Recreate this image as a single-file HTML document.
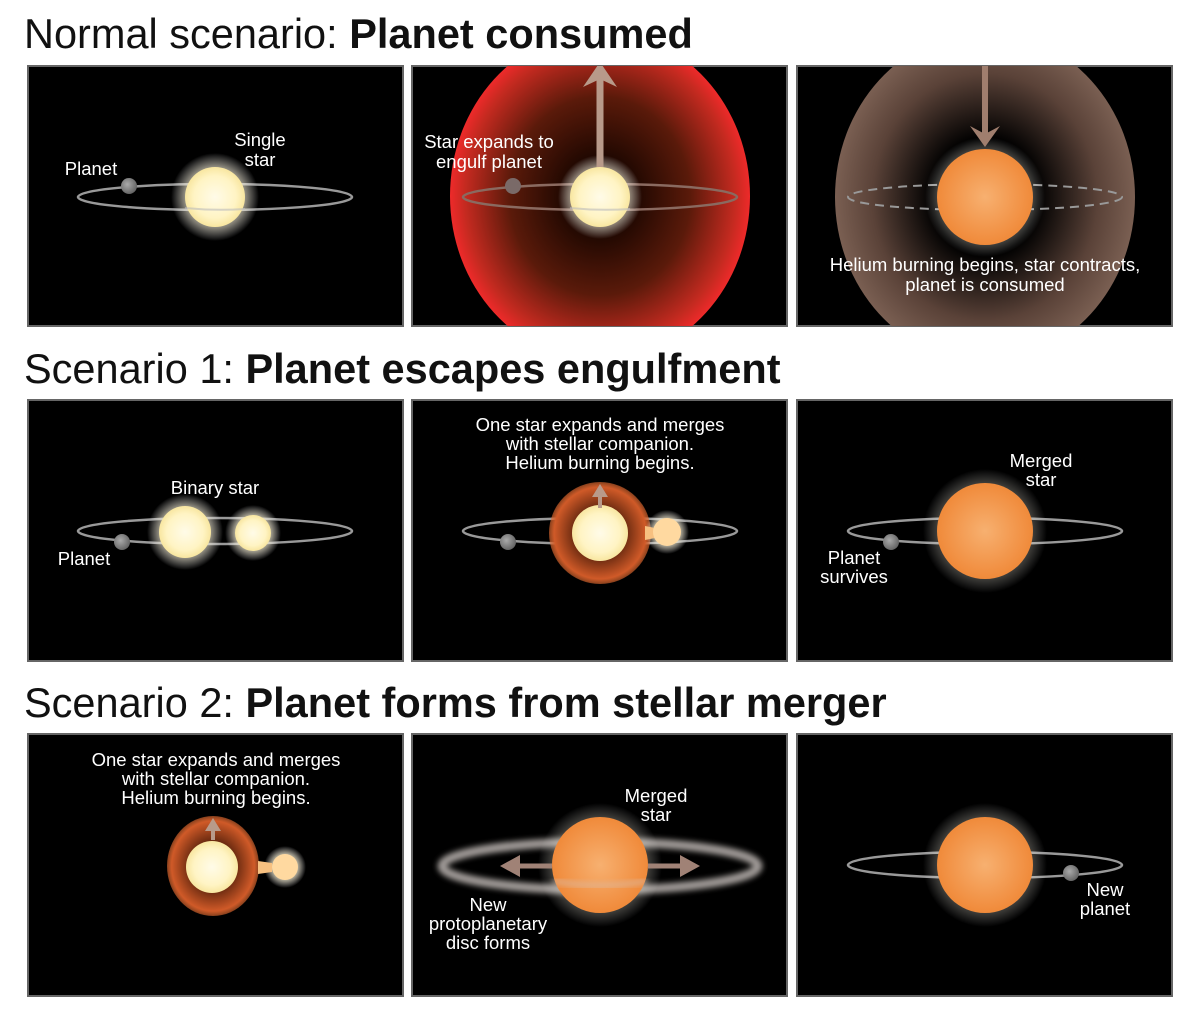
<!DOCTYPE html>
<html><head><style>
html,body{margin:0;padding:0;background:#fff;}
svg{display:block;}
text{font-family:"Liberation Sans",Arial,sans-serif;}
.l{fill:#fff;font-size:18.5px;text-anchor:middle;}
.t{font-size:41.5px;fill:#111;}
</style></head><body>
<svg width="1200" height="1018" viewBox="0 0 1200 1018" xmlns="http://www.w3.org/2000/svg">
<defs>
<radialGradient id="cream" cx="50%" cy="50%" r="50%">
<stop offset="0" stop-color="#fffbe8"/><stop offset="0.7" stop-color="#fff4c4"/><stop offset="1" stop-color="#f8e6a0"/></radialGradient>
<radialGradient id="glow" cx="50%" cy="50%" r="50%">
<stop offset="0.5" stop-color="#fff4d0" stop-opacity="0.9"/><stop offset="1" stop-color="#fff" stop-opacity="0"/></radialGradient>
<radialGradient id="orange" cx="50%" cy="50%" r="50%">
<stop offset="0" stop-color="#f7b070"/><stop offset="1" stop-color="#f08a3a"/></radialGradient>
<radialGradient id="red" cx="50%" cy="50%" r="50%">
<stop offset="0.2" stop-color="#1a0600"/><stop offset="0.6" stop-color="#5a1a0a"/><stop offset="0.9" stop-color="#c42a20"/><stop offset="1" stop-color="#ee2a2a"/></radialGradient>
<radialGradient id="brown" cx="50%" cy="50%" r="50%">
<stop offset="0.35" stop-color="#000"/><stop offset="0.75" stop-color="#5a4238"/><stop offset="1" stop-color="#7a5f52"/></radialGradient>
<radialGradient id="oglow" cx="50%" cy="50%" r="50%">
<stop offset="0.5" stop-color="#6a2a10"/><stop offset="0.9" stop-color="#d05a28"/><stop offset="1" stop-color="#e06a30" stop-opacity="0.6"/></radialGradient>
<radialGradient id="planet" cx="40%" cy="40%" r="60%">
<stop offset="0" stop-color="#aaa"/><stop offset="1" stop-color="#666"/></radialGradient>
<clipPath id="c12"><rect x="412" y="66" width="375" height="260"/></clipPath>
<clipPath id="c13"><rect x="797" y="66" width="375" height="260"/></clipPath>
<filter id="blur" x="-20%" y="-50%" width="140%" height="200%"><feGaussianBlur stdDeviation="3"/></filter>
</defs>

<text class="t" x="24" y="48">Normal scenario: <tspan font-weight="bold">Planet consumed</tspan></text>
<text class="t" x="24" y="383">Scenario 1: <tspan font-weight="bold">Planet escapes engulfment</tspan></text>
<text class="t" x="24" y="717">Scenario 2: <tspan font-weight="bold">Planet forms from stellar merger</tspan></text>

<g fill="#000" stroke="#666" stroke-width="2">
<rect x="28" y="66" width="375" height="260"/><rect x="412" y="66" width="375" height="260"/><rect x="797" y="66" width="375" height="260"/>
<rect x="28" y="400" width="375" height="261"/><rect x="412" y="400" width="375" height="261"/><rect x="797" y="400" width="375" height="261"/>
<rect x="28" y="734" width="375" height="262"/><rect x="412" y="734" width="375" height="262"/><rect x="797" y="734" width="375" height="262"/>
</g>

<!-- Row 1 panel 1 -->
<ellipse cx="215" cy="197" rx="137" ry="13" fill="none" stroke="#999" stroke-width="2.5"/>
<circle cx="215" cy="197" r="44" fill="url(#glow)"/>
<circle cx="215" cy="197" r="30" fill="url(#cream)"/>
<path d="M185,208 Q215,211 245,209" fill="none" stroke="#bbb" stroke-width="2" opacity="0.6"/>
<circle cx="129" cy="186" r="8" fill="url(#planet)"/>
<text class="l" x="91" y="175">Planet</text>
<text class="l" x="260" y="146">Single</text><text class="l" x="260" y="166">star</text>

<!-- Row 1 panel 2 -->
<g clip-path="url(#c12)">
<ellipse cx="600" cy="196" rx="150" ry="165" fill="url(#red)"/>
<ellipse cx="600" cy="197" rx="137" ry="13" fill="none" stroke="#8a6a60" stroke-width="2.5"/>
<circle cx="600" cy="197" r="42" fill="url(#glow)"/>
<circle cx="600" cy="197" r="30" fill="url(#cream)"/>
<path d="M570,208 Q600,211 630,209" fill="none" stroke="#bbb" stroke-width="2" opacity="0.6"/>
<circle cx="513" cy="186" r="8" fill="#7a6a68"/>
<line x1="600" y1="167" x2="600" y2="78" stroke="#b89a8a" stroke-width="7"/>
<path d="M583,87 L600,62 L617,87 L600,79 z" fill="#b89a8a"/>
</g>
<text class="l" x="489" y="148">Star expands to</text><text class="l" x="489" y="168">engulf planet</text>

<!-- Row 1 panel 3 -->
<g clip-path="url(#c13)">
<ellipse cx="985" cy="197" rx="150" ry="165" fill="url(#brown)"/>
<ellipse cx="985" cy="197" rx="137" ry="13" fill="none" stroke="#999" stroke-width="2" stroke-dasharray="9,6"/>
<circle cx="985" cy="197" r="60" fill="url(#glow)" opacity="0.7"/>
<circle cx="985" cy="197" r="48" fill="url(#orange)"/>
<line x1="985" y1="66" x2="985" y2="135" stroke="#a07e6e" stroke-width="6"/>
<path d="M970,126 L985,147 L1000,126 L985,134 z" fill="#a07e6e"/>
</g>
<text class="l" x="985" y="271">Helium burning begins, star contracts,</text>
<text class="l" x="985" y="291">planet is consumed</text>

<!-- Row 2 panel 1 -->
<ellipse cx="215" cy="531" rx="137" ry="13" fill="none" stroke="#999" stroke-width="2.5"/>
<circle cx="185" cy="532" r="38" fill="url(#glow)"/>
<circle cx="185" cy="532" r="26" fill="url(#cream)"/>
<circle cx="253" cy="533" r="28" fill="url(#glow)"/>
<circle cx="253" cy="533" r="18" fill="url(#cream)"/>
<circle cx="122" cy="542" r="8" fill="url(#planet)"/>
<text class="l" x="215" y="494">Binary star</text>
<text class="l" x="84" y="565">Planet</text>

<!-- Row 2 panel 2 -->
<text class="l" x="600" y="431">One star expands and merges</text>
<text class="l" x="600" y="450">with stellar companion.</text>
<text class="l" x="600" y="469">Helium burning begins.</text>
<ellipse cx="600" cy="531" rx="137" ry="13" fill="none" stroke="#999" stroke-width="2.5"/>
<circle cx="600" cy="533" r="51" fill="url(#oglow)"/>
<circle cx="667" cy="532" r="22" fill="url(#glow)"/>
<path d="M645,526 L655,528 L655,538 L645,540 z" fill="#f7c080"/>
<circle cx="667" cy="532" r="14" fill="#ffd9a0"/>
<circle cx="600" cy="533" r="28" fill="url(#cream)"/>
<line x1="600" y1="508" x2="600" y2="494" stroke="#b89a8a" stroke-width="4"/>
<path d="M592,497 L600,484 L608,497 z" fill="#b89a8a"/>
<circle cx="508" cy="542" r="8" fill="url(#planet)"/>

<!-- Row 2 panel 3 -->
<ellipse cx="985" cy="531" rx="137" ry="13" fill="none" stroke="#999" stroke-width="2.5"/>
<circle cx="985" cy="531" r="62" fill="url(#glow)" opacity="0.6"/>
<circle cx="985" cy="531" r="48" fill="url(#orange)"/>
<circle cx="891" cy="542" r="8" fill="url(#planet)"/>
<text class="l" x="1041" y="467">Merged</text><text class="l" x="1041" y="486">star</text>
<text class="l" x="854" y="564">Planet</text><text class="l" x="854" y="583">survives</text>

<!-- Row 3 panel 1 -->
<text class="l" x="216" y="766">One star expands and merges</text>
<text class="l" x="216" y="785">with stellar companion.</text>
<text class="l" x="216" y="804">Helium burning begins.</text>
<ellipse cx="213" cy="866" rx="46" ry="50" fill="url(#oglow)"/>
<circle cx="285" cy="867" r="21" fill="url(#glow)"/>
<path d="M258,861 L272,863 L272,872 L258,874 z" fill="#f7c080"/>
<circle cx="285" cy="867" r="13" fill="#ffd9a0"/>
<circle cx="212" cy="867" r="26" fill="url(#cream)"/>
<line x1="213" y1="840" x2="213" y2="828" stroke="#b89a8a" stroke-width="4"/>
<path d="M205,831 L213,818 L221,831 z" fill="#b89a8a"/>

<!-- Row 3 panel 2 -->
<ellipse cx="600" cy="866" rx="158" ry="24" fill="none" stroke="#d8d0cc" stroke-width="9" opacity="0.75" filter="url(#blur)"/>
<circle cx="600" cy="865" r="62" fill="url(#glow)" opacity="0.6"/>
<circle cx="600" cy="865" r="48" fill="url(#orange)"/>
<path d="M553,881 Q600,890 647,881" fill="none" stroke="#d8c0b0" stroke-width="6" opacity="0.5" filter="url(#blur)"/>
<line x1="552" y1="866" x2="515" y2="866" stroke="#a08276" stroke-width="5"/>
<path d="M520,855 L500,866 L520,877 z" fill="#a08276"/>
<line x1="648" y1="866" x2="685" y2="866" stroke="#a08276" stroke-width="5"/>
<path d="M680,855 L700,866 L680,877 z" fill="#a08276"/>
<text class="l" x="656" y="802">Merged</text><text class="l" x="656" y="821">star</text>
<text class="l" x="488" y="911">New</text><text class="l" x="488" y="930">protoplanetary</text><text class="l" x="488" y="949">disc forms</text>

<!-- Row 3 panel 3 -->
<ellipse cx="985" cy="865" rx="137" ry="13" fill="none" stroke="#999" stroke-width="2.5"/>
<circle cx="985" cy="865" r="62" fill="url(#glow)" opacity="0.6"/>
<circle cx="985" cy="865" r="48" fill="url(#orange)"/>
<circle cx="1071" cy="873" r="8" fill="url(#planet)"/>
<text class="l" x="1105" y="896">New</text><text class="l" x="1105" y="915">planet</text>
</svg>
</body></html>
